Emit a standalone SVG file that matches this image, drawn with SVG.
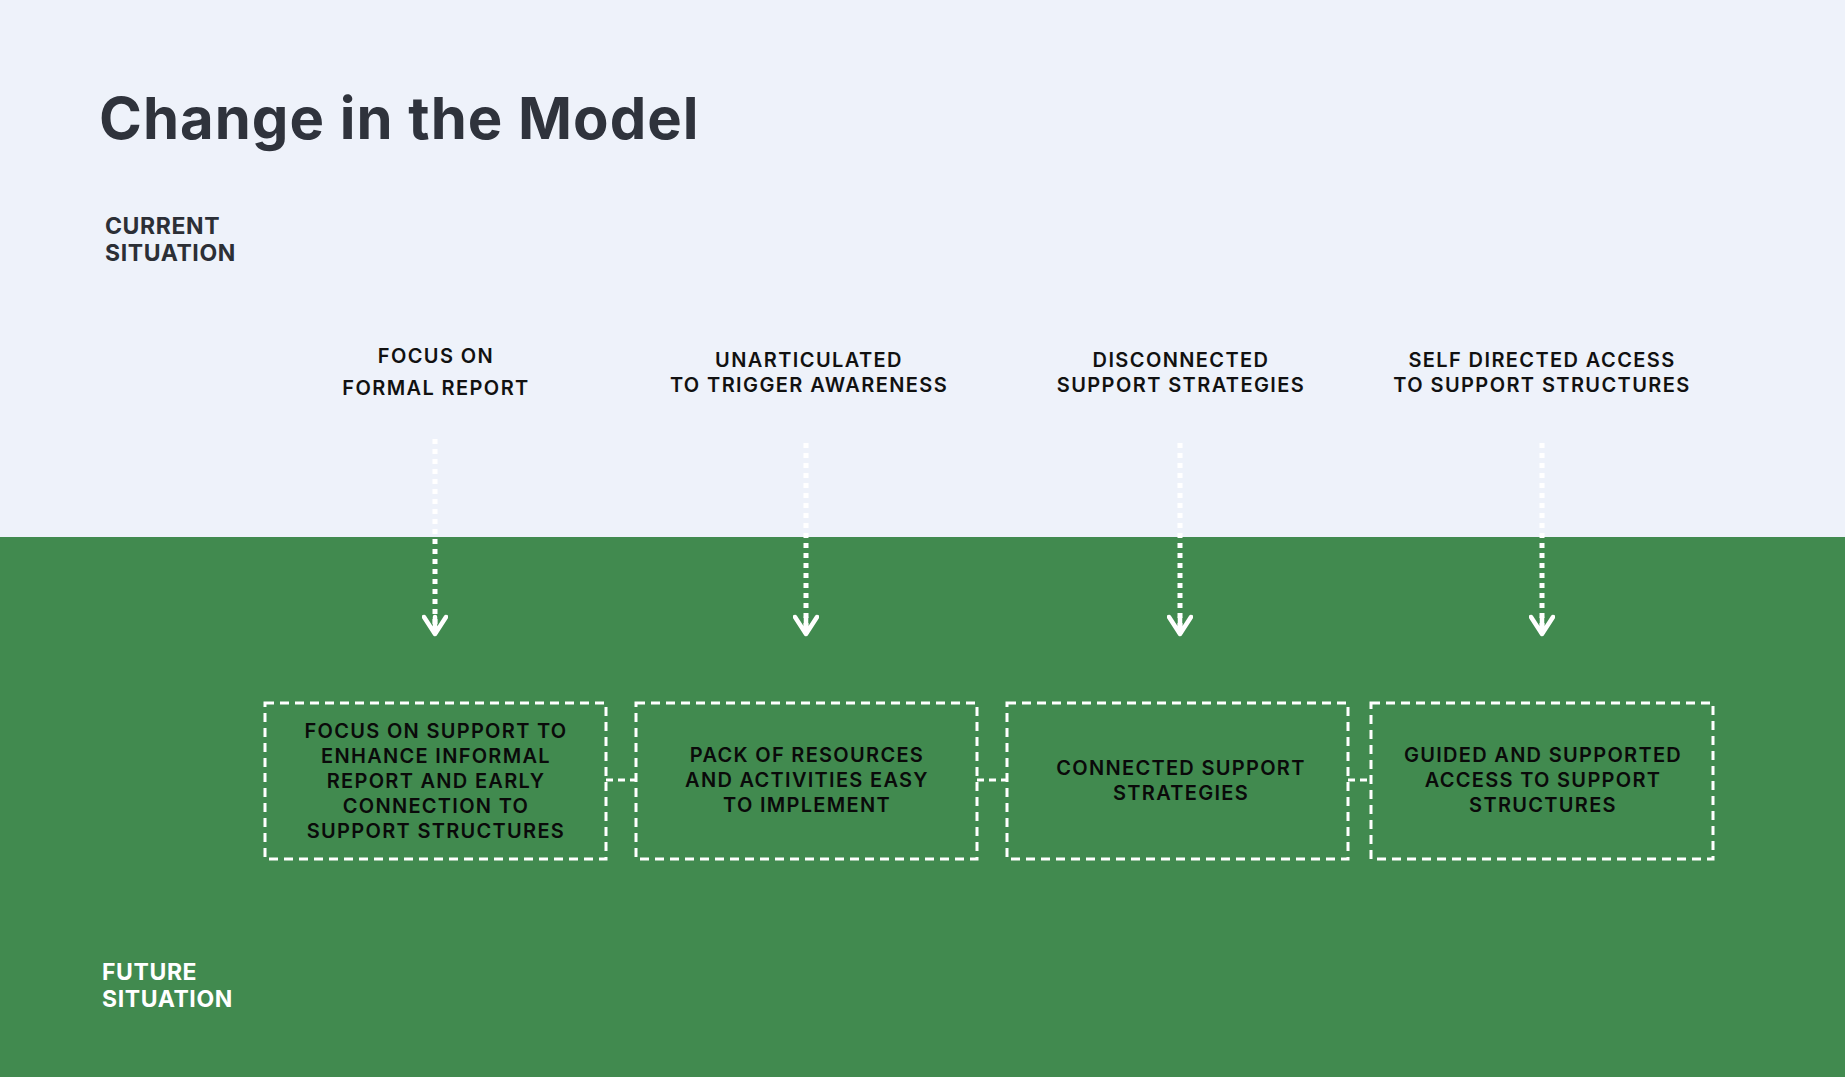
<svg xmlns="http://www.w3.org/2000/svg" width="1845" height="1077" viewBox="0 0 1845 1077">
<defs>
<style>
.title{font-family:Inter,"Liberation Sans",sans-serif;font-weight:700;font-size:58px;letter-spacing:1px;fill:#2F333C}
.sec{font-family:Inter,"Liberation Sans",sans-serif;font-weight:700;font-size:23px;letter-spacing:0.6px}
.lbl{font-family:Inter,"Liberation Sans",sans-serif;font-weight:600;font-size:20px;letter-spacing:1.4px;fill:#111111;text-anchor:middle}
.box{fill:none;stroke:#FFFFFF;stroke-width:3;stroke-dasharray:9 6}
.btxt{font-family:Inter,"Liberation Sans",sans-serif;font-weight:600;font-size:20px;letter-spacing:1.3px;fill:#0A0A0A;text-anchor:middle}
.arrow{fill:none;stroke:#FFFFFF;stroke-width:5;stroke-dasharray:5 5}
.link{fill:none;stroke:#FFFFFF;stroke-width:3;stroke-dasharray:7 5}
</style>
<marker id="head" viewBox="0 0 26 26" refX="21" refY="13" markerWidth="26" markerHeight="26" markerUnits="userSpaceOnUse" orient="auto">
<path d="M4 2 L21 13 L4 24 M4 13 L21 13" fill="none" stroke="#FFFFFF" stroke-width="4.5" stroke-linecap="round" stroke-linejoin="round"/>
</marker>
</defs>
<rect x="0" y="0" width="1845" height="537" fill="#EEF2FA"/>
<rect x="0" y="537" width="1845" height="540" fill="#418A4F"/>
<text class="title" x="99" y="139">Change in the Model</text>
<g id="current-situation"><text class="sec" fill="#2C2F36" x="105" y="234">CURRENT</text><text class="sec" fill="#2C2F36" x="105" y="261">SITUATION</text></g>
<g id="future-situation"><text class="sec" fill="#FFFFFF" x="102" y="980">FUTURE</text><text class="sec" fill="#FFFFFF" x="102" y="1007">SITUATION</text></g>
<g id="cur1"><text class="lbl" x="436" y="363">FOCUS ON</text><text class="lbl" x="436" y="395">FORMAL REPORT</text></g>
<g id="cur2"><text class="lbl" x="809" y="367">UNARTICULATED</text><text class="lbl" x="809" y="392">TO TRIGGER AWARENESS</text></g>
<g id="cur3"><text class="lbl" x="1181" y="367">DISCONNECTED</text><text class="lbl" x="1181" y="392">SUPPORT STRATEGIES</text></g>
<g id="cur4"><text class="lbl" x="1542" y="367">SELF DIRECTED ACCESS</text><text class="lbl" x="1542" y="392">TO SUPPORT STRUCTURES</text></g>
<g id="fut1"><rect class="box" x="265" y="703" width="341" height="156"/>
<text class="btxt" x="436" y="738">FOCUS ON SUPPORT TO</text><text class="btxt" x="436" y="763">ENHANCE INFORMAL</text><text class="btxt" x="436" y="788">REPORT AND EARLY</text><text class="btxt" x="436" y="813">CONNECTION TO</text><text class="btxt" x="436" y="838">SUPPORT STRUCTURES</text></g>
<g id="fut2"><rect class="box" x="636" y="703" width="341" height="156"/>
<text class="btxt" x="807" y="762">PACK OF RESOURCES</text><text class="btxt" x="807" y="787">AND ACTIVITIES EASY</text><text class="btxt" x="807" y="812">TO IMPLEMENT</text></g>
<g id="fut3"><rect class="box" x="1007" y="703" width="341" height="156"/>
<text class="btxt" x="1181" y="775">CONNECTED SUPPORT</text><text class="btxt" x="1181" y="800">STRATEGIES</text></g>
<g id="fut4"><rect class="box" x="1371" y="703" width="342" height="156"/>
<text class="btxt" x="1543" y="762">GUIDED AND SUPPORTED</text><text class="btxt" x="1543" y="787">ACCESS TO SUPPORT</text><text class="btxt" x="1543" y="812">STRUCTURES</text></g>
<g id="connectors">
<line class="arrow" x1="435" y1="439" x2="435" y2="634" marker-end="url(#head)"/>
<line class="arrow" x1="806" y1="443" x2="806" y2="634" marker-end="url(#head)"/>
<line class="arrow" x1="1180" y1="443" x2="1180" y2="634" marker-end="url(#head)"/>
<line class="arrow" x1="1542" y1="443" x2="1542" y2="634" marker-end="url(#head)"/>
<line class="link" x1="606" y1="780" x2="636" y2="780"/>
<line class="link" x1="977" y1="780" x2="1007" y2="780"/>
<line class="link" x1="1348" y1="780" x2="1371" y2="780"/>
</g>
</svg>
